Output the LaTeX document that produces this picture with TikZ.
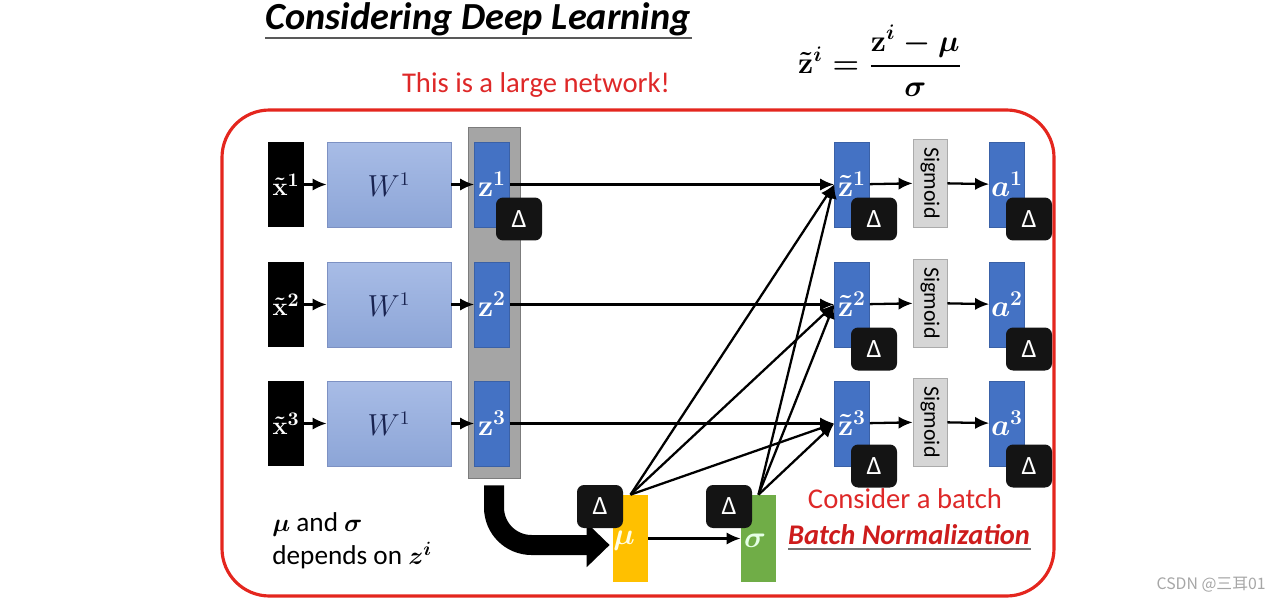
\documentclass[tikz,border=0pt]{standalone}
\usepackage[no-math]{fontspec}
\setmainfont{Carlito}
\newfontfamily\cjk{Noto Sans CJK SC}
\usepackage{amsmath,bm,graphicx}
\usetikzlibrary{arrows.meta}
\definecolor{bordred}{RGB}{228,38,30}
\definecolor{txtred}{RGB}{222,40,40}
\definecolor{bnred}{RGB}{205,28,28}
\definecolor{zblue}{RGB}{68,114,196}
\definecolor{wtop}{RGB}{168,188,230}
\definecolor{wbot}{RGB}{140,165,215}
\definecolor{wedge}{RGB}{125,145,195}
\definecolor{wtext}{RGB}{25,35,80}
\definecolor{colgray}{RGB}{165,165,165}
\definecolor{siggray}{RGB}{214,214,214}
\definecolor{muor}{RGB}{255,192,0}
\definecolor{sggreen}{RGB}{112,173,71}
\begin{document}
\begin{tikzpicture}[x=0.02cm,y=-0.02cm,
  xbox/.style={fill=black,text=white,minimum width=0.72cm,minimum height=1.7cm,inner sep=0pt,font=\fontsize{15}{17}\selectfont\boldmath},
  wbox/.style={draw=wedge,top color=wtop,bottom color=wbot,minimum width=2.48cm,minimum height=1.7cm,text=wtext,font=\fontsize{16}{18}\selectfont},
  zbox/.style={fill=zblue,draw=zblue!85!black,text=white,minimum width=0.7cm,minimum height=1.7cm,inner sep=0pt,font=\fontsize{17}{19}\selectfont\boldmath},
  deltabox/.style={fill=black!92,rounded corners=4pt,text=white,minimum width=0.92cm,minimum height=0.86cm,inner sep=0pt,font=\fontsize{15}{17}\selectfont},
  sigbox/.style={fill=siggray,draw=siggray!80!black,minimum width=0.68cm,minimum height=1.76cm,inner sep=0pt,font=\fontsize{12.5}{14}\selectfont},
  colbox/.style={fill=colgray,draw=colgray!75!black,minimum width=1.04cm,minimum height=7.02cm,inner sep=0pt},
  statbox/.style={minimum width=0.7cm,minimum height=1.74cm,inner sep=0pt},
  arr/.style={-{Latex[length=8pt,width=7pt]},line width=1.3pt},
  redtxt/.style={text=txtred,font=\fontsize{16.3}{19}\selectfont}
]
\useasboundingbox (0,0) rectangle (1275,602);

% title and formula
\node[font=\fontsize{21.8}{26}\selectfont\bfseries\itshape,inner sep=0pt] (title) at (478,19) {Considering Deep Learning};
\draw[black!65,line width=1.2pt] (265,38) -- (692,38);
\node[font=\fontsize{17}{20}\selectfont\boldmath] (formula) at (880,61)
  {$\displaystyle \tilde{\mathbf{z}}^{i}=\frac{\mathbf{z}^{i}-\mu}{\sigma}$};
\node[redtxt] (large) at (536,85) {This is a large network!};

% red frame
\draw[bordred,line width=1.8pt,rounded corners=0.95cm] (222,110) rectangle (1054,596);

% gray column
\node[colbox] (col) at (494,302.5) {};

% rows
\foreach \i/\y in {1/184.5,2/304.5,3/423.5}{
  \node[xbox] (x\i) at (286,\y) {${\tilde{\mathbf{x}}}^{\i}$};
  \node[wbox] (w\i) at (389,\y) {$W^1$};
  \node[zbox] (z\i) at (492,\y) {$\mathbf{z}^{\i}$};
  \node[zbox] (zt\i) at (852,\y) {$\tilde{\mathbf{z}}^{\i}$};
  \node[sigbox] (s\i) at (930,\y-1.5) {\rotatebox{-90}{Sigmoid}};
  \node[zbox] (a\i) at (1007,\y) {$a^{\i}$};
  \draw[arr] (x\i) -- (w\i);
  \draw[arr] (w\i) -- (z\i);
  \draw[arr] (z\i) -- (zt\i);
  \draw[arr] (zt\i) -- (s\i);
  \draw[arr] (s\i) -- (a\i);
}

% mu and sigma
\node[statbox,fill=muor] (mu) at (630.5,538.5) {};
\node[statbox,fill=sggreen] (sg) at (758.5,538.5) {};
\node[text=white!90!yellow,font=\fontsize{17}{19}\selectfont\boldmath] (mulbl) at (624,541) {$\mu$};
\node[text=white!90!green,font=\fontsize{17}{19}\selectfont\boldmath] (sglbl) at (755,541) {$\sigma$};
\draw[arr] (mu) -- (sg);
\foreach \i in {1,2,3}{
  \draw[arr] (mu.north) -- (zt\i.west);
  \draw[arr] (sg.north) -- (zt\i.west);
}

% big bent arrow
\draw[line width=0.4cm,rounded corners=0.75cm,-{Triangle[length=0.46cm,width=0.86cm]}]
  ([yshift=-0.14cm]col.south) |- ([xshift=-0.06cm,yshift=-0.13cm]mu.west);

% delta boxes
\node[deltabox] (dz1) at (519,219) {Δ};
\node[deltabox] (dzt1) at (874,219) {Δ};
\node[deltabox] (da1) at (1029,219) {Δ};
\node[deltabox] (dzt2) at (874,349) {Δ};
\node[deltabox] (da2) at (1029,349) {Δ};
\node[deltabox] (dzt3) at (874,466) {Δ};
\node[deltabox] (da3) at (1029,466) {Δ};
\node[deltabox] (dmu) at (600,506.5) {Δ};
\node[deltabox] (dsg) at (729,506.5) {Δ};

% bottom texts
\node[redtxt] (batch) at (905,499) {Consider a batch};
\node[text=bnred,font=\fontsize{16.2}{19}\selectfont\bfseries\itshape] (bn) at (909,535) {Batch Normalization};
\draw[black!55,line width=1pt] (788,549) -- (1031,549);
\node[anchor=west,align=left,font=\fontsize{15.5}{19}\selectfont,inner sep=0pt] (dep) at (272,541)
  {$\bm{\mu}$ and $\bm{\sigma}$\\depends on $\bm{z}^{\bm{i}}$};

% watermark
\node[text=black!35,font=\cjk\fontsize{9}{10}\selectfont,anchor=east,inner sep=0pt] (wm) at (1266,585) {CSDN @三耳01};
\end{tikzpicture}
\end{document}
